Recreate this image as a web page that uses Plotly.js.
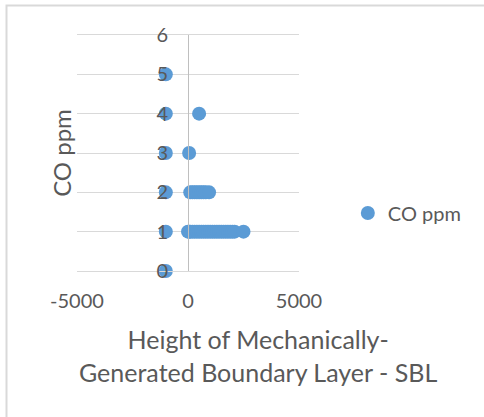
<!DOCTYPE html>
<html>
<head>
<meta charset="utf-8">
<script src="https://cdn.plot.ly/plotly-3.0.1.min.js"></script>
<style>html,body{margin:0;padding:0;background:#fff;}#chart{width:484px;height:417px;}</style>
</head>
<body>
<div id="chart"></div>
<script>
// CO ppm vs height of mechanically-generated boundary layer (SBL)
const sblHeight = [
  -999, -999, -999, -999, -999, -999,
  500,
  50,
  100, 200, 300, 400, 500, 600, 700, 800, 950,
  0, 50, 100, 200, 300, 400, 500, 600, 700, 800, 900, 1000, 1100, 1200, 1300, 1400, 1500, 1600, 1700, 1800, 1900, 2000, 2100, 2500
];
const coPpm = [
  0, 1, 2, 3, 4, 5,
  4,
  3,
  2, 2, 2, 2, 2, 2, 2, 2, 2,
  1, 1, 1, 1, 1, 1, 1, 1, 1, 1, 1, 1, 1, 1, 1, 1, 1, 1, 1, 1, 1, 1, 1, 1
];
const xTicks = [-5000, 0, 5000];
const yTicks = [0, 1, 2, 3, 4, 5, 6];
const seriesName = 'CO ppm';
const xTitleLines = ['Height of Mechanically-', 'Generated Boundary Layer - SBL'];
const yTitle = 'CO ppm';

const gray = '#595959';
const font = 'Lato, "Open Sans", sans-serif';

Plotly.newPlot('chart', [{
  type: 'scatter', mode: 'markers', name: seriesName,
  x: sblHeight, y: coPpm,
  marker: {color: '#5b9bd5', size: 14},
  cliponaxis: false
}], {
  width: 484, height: 417,
  margin: {l: 77, r: 185, t: 35, b: 146},
  paper_bgcolor: '#fff', plot_bgcolor: '#fff',
  font: {family: font, color: gray, size: 20},
  showlegend: true,
  legend: {x: 1.22, y: 0.246, xanchor: 'left', yanchor: 'middle', font: {size: 20, color: gray}, itemwidth: 30},
  xaxis: {
    range: [-5000, 5000], tickvals: xTicks, ticktext: xTicks.map(String),
    showgrid: false, zeroline: false,
    showline: true, mirror: true, linecolor: '#d9d9d9', linewidth: 1,
    ticks: '', ticklabelstandoff: 12, tickfont: {size: 20, color: gray}
  },
  yaxis: {
    range: [0, 6], tickvals: yTicks, ticktext: yTicks.map(String),
    anchor: 'free', position: 0.5,
    showgrid: true, gridcolor: '#d9d9d9', gridwidth: 1,
    zeroline: false, showline: true, linecolor: '#bfbfbf', linewidth: 1,
    ticks: '', ticklabelstandoff: 16, tickfont: {size: 20, color: gray},
    title: {text: yTitle, font: {size: 24, color: gray}, standoff: 76}
  },
  annotations: [{
    xref: 'paper', yref: 'paper', x: (258 - 77) / 222, y: (271 - 355) / 236,
    xanchor: 'center', yanchor: 'middle', showarrow: false, align: 'center',
    text: xTitleLines.join('<br>'), font: {size: 25, color: gray}
  }],
  shapes: [{
    type: 'rect', xref: 'paper', yref: 'paper',
    x0: (6.5 - 77) / 222, x1: 2, y0: -0.7, y1: (271 - 5.5) / 236,
    line: {color: '#d9d9d9', width: 2}
  }]
}, {displayModeBar: false, staticPlot: true});
</script>
</body>
</html>
